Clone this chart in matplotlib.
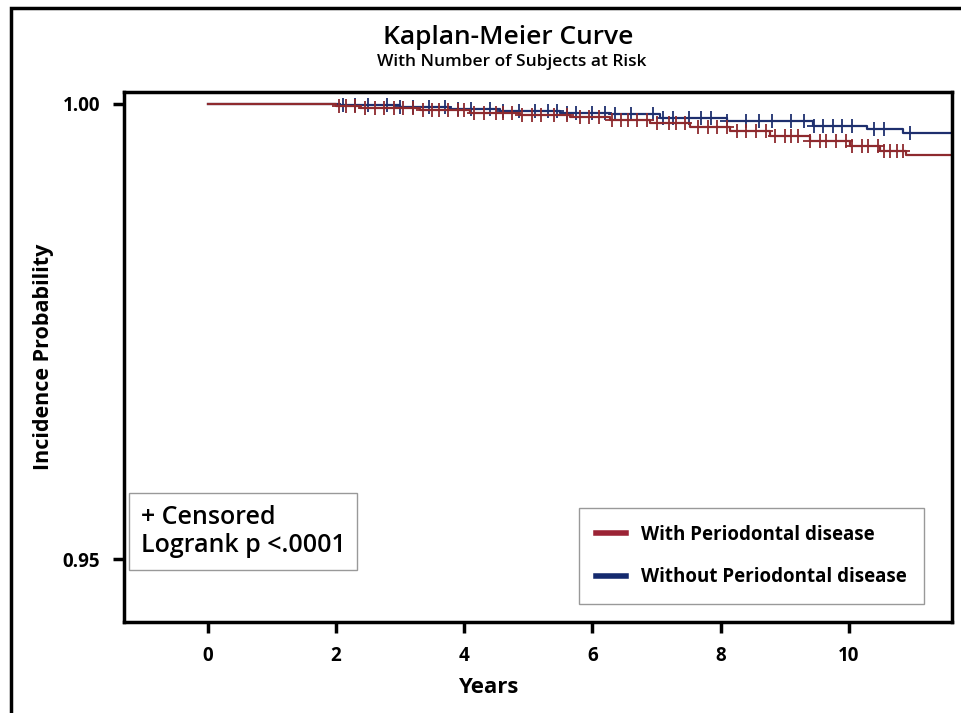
import numpy as np
import matplotlib.pyplot as plt
from matplotlib.lines import Line2D
from matplotlib.patches import Rectangle

plt.rcParams['font.family'] = ['Open Sans', 'DejaVu Sans']

# step points (years, survival)
red_t = [0.0, 2.0, 2.37, 3.31, 4.09, 4.87, 5.65, 6.27, 6.90, 7.52, 8.14, 8.77, 9.39, 10.02, 10.48, 10.90]
red_s = [1.0, 0.99978, 0.99956, 0.99934, 0.99901, 0.99879, 0.99857, 0.99824, 0.99791, 0.99747,
         0.99703, 0.99648, 0.99593, 0.99537, 0.99482, 0.99438]
blue_t = [0.0, 2.06, 3.0, 3.78, 4.56, 5.49, 6.27, 7.05, 8.10, 9.44, 10.28, 10.84]
blue_s = [1.0, 0.99989, 0.99967, 0.99945, 0.99923, 0.99901, 0.9989, 0.99846, 0.99813, 0.99758,
          0.99725, 0.99681]
t_end = 11.7

# censored times
red_cens = [2.05, 2.15, 2.3, 2.45, 2.6, 2.75, 2.9, 3.05, 3.2, 3.35, 3.5, 3.6, 3.75, 3.9, 4.0, 4.15,
            4.3, 4.5, 4.6, 4.75, 4.9, 5.05, 5.2, 5.4, 5.6, 5.8, 5.95, 6.1, 6.3, 6.45, 6.55, 6.7,
            6.85, 7.0, 7.2, 7.3, 7.45, 7.65, 7.8, 7.95, 8.1, 8.25, 8.4, 8.55, 8.7, 8.85, 9.0, 9.1,
            9.2, 9.4, 9.55, 9.65, 9.8, 9.95, 10.05, 10.2, 10.3, 10.45, 10.55, 10.65, 10.75, 10.85]
blue_cens = [2.1, 2.3, 2.5, 2.8, 3.0, 3.2, 3.45, 3.7, 3.9, 4.1, 4.4, 4.6, 4.85, 5.1, 5.3, 5.45,
             5.6, 5.75, 6.0, 6.2, 6.35, 6.6, 6.95, 7.1, 7.25, 7.5, 7.7, 7.85, 8.1, 8.4, 8.6, 8.8,
             9.1, 9.3, 9.45, 9.6, 9.75, 9.9, 10.05, 10.4, 10.55, 10.95]

red_col = '#8E2A2E'
blue_col = '#1E2F6E'

fig = plt.figure(figsize=(9.61, 7.13), dpi=100)
ax = fig.add_axes([124 / 961, 1 - 622 / 713, (952 - 124) / 961, (622 - 92) / 713])

# outer frame of the whole picture
fig.patches.append(Rectangle((11 / 961, -0.1), 1.2, 1 - 8 / 713 + 0.1, transform=fig.transFigure,
                             fill=False, lw=2.5, ec='black', zorder=0))


def surv_at(times, st, sv):
    idx = np.searchsorted(st, times, side='right') - 1
    return np.array(sv)[idx]


for st, sv, cens, col in [(blue_t, blue_s, blue_cens, blue_col), (red_t, red_s, red_cens, red_col)]:
    ax.step(st + [t_end], sv + [sv[-1]], where='post', color=col, lw=1.6)
    ax.plot(cens, surv_at(cens, st, sv), ls='none', marker='+', ms=10, mew=1.3, color=col)

ax.set_xlim(-1.31, 11.61)
ax.set_ylim(0.9431, 1.0013)
ax.set_xticks([0, 2, 4, 6, 8, 10])
ax.set_yticks([0.95, 1.00])
ax.set_yticklabels(['0.95', '1.00'])
for s in ax.spines.values():
    s.set_linewidth(2.5)
ax.tick_params(width=2.5, length=8, labelsize=13.5, pad=9)
for lab in ax.get_xticklabels() + ax.get_yticklabels():
    lab.set_fontweight('bold')

ax.set_xlabel('Years', fontsize=16, fontweight='bold', labelpad=8, x=0.44)
ax.set_ylabel('Incidence Probability', fontsize=15.5, fontweight='bold', labelpad=6)

fig.text(508 / 961, 1 - 37 / 713, 'Kaplan-Meier Curve', ha='center', va='center', fontsize=19,
         fontweight='semibold')
fig.text(512 / 961, 1 - 62 / 713, 'With Number of Subjects at Risk', ha='center', va='center',
         fontsize=12.5, fontweight='semibold')

ax.text(0.02, 0.12, '+ Censored\nLogrank p <.0001', transform=ax.transAxes, fontsize=18,
        fontweight='semibold', va='bottom', ha='left', linespacing=1.2,
        bbox=dict(boxstyle='square,pad=0.45', fc='white', ec='#999999', lw=1))

handles = [Line2D([], [], color='#9B2335', lw=4), Line2D([], [], color='#142A6E', lw=4)]
leg = ax.legend(handles, ['With Periodontal disease', 'Without Periodontal disease'],
                loc='lower right', bbox_to_anchor=(0.966, 0.034), borderaxespad=0, fancybox=False,
                edgecolor='#999999', prop={'size': 13.5, 'weight': 'bold'}, handlelength=1.6,
                labelspacing=1.2, borderpad=0.9, framealpha=1)
leg.get_frame().set_linewidth(1)

fig.savefig('out.png', dpi=100)
